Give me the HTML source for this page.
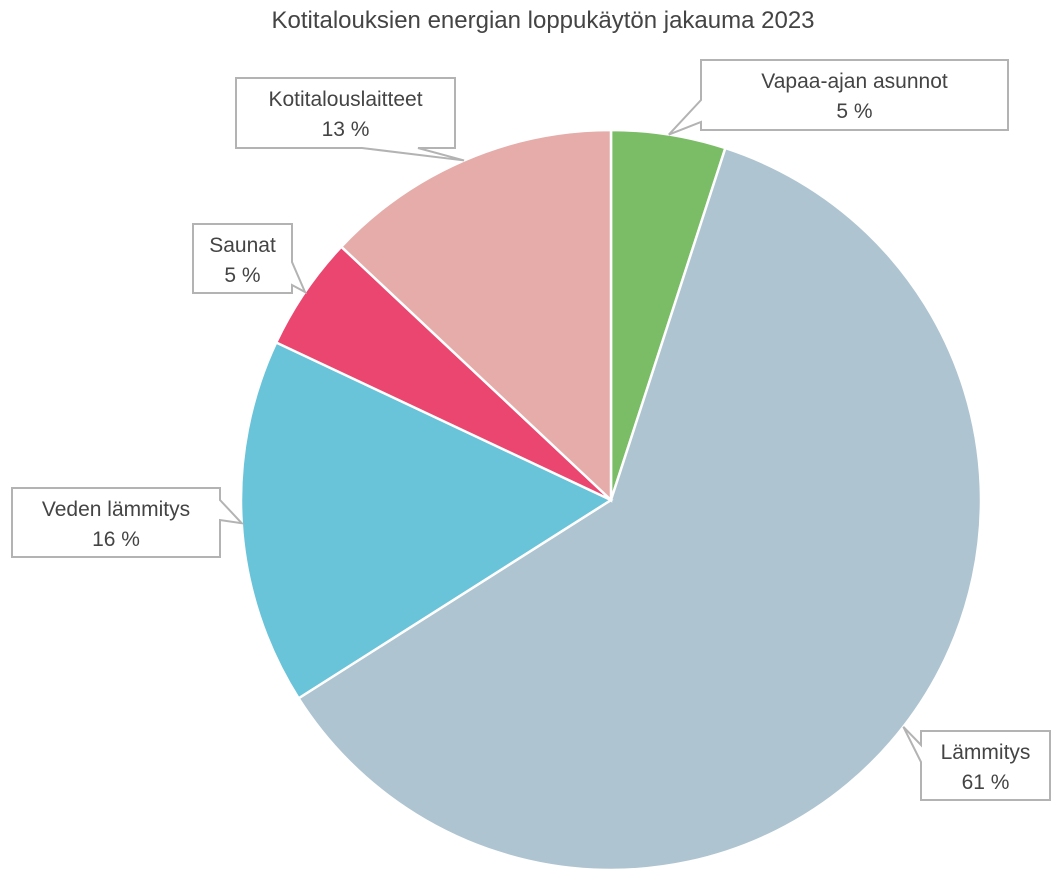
<!DOCTYPE html>
<html><head><meta charset="utf-8">
<style>
html,body{margin:0;padding:0;background:#fff;}
svg{display:block;font-family:"Liberation Sans",sans-serif;}
</style></head>
<body>
<svg id="chart" width="1063" height="887" viewBox="0 0 1063 887">
<text x="543" y="28" text-anchor="middle" font-size="24" fill="#444">Kotitalouksien energian loppukäytön jakauma 2023</text>
<g id="slices"></g>
<g id="labels"></g>
</svg>
<script>
const categories = ["Vapaa-ajan asunnot","Lämmitys","Veden lämmitys","Saunat","Kotitalouslaitteet"];
const values = [5,61,16,5,13];
const valueLabels = ["5 %","61 %","16 %","5 %","13 %"];
const colors = ["#7bbd66","#aec4d1","#69c3d9","#ea4670","#e5aca9"];
// label box layout: [x,y,w,h,tailEdge,t1,t2]
const boxes = [
 [701,60,307,70,"left",100,122],
 [921,731,129,69,"left",745,762],
 [12,488,208,69,"right",500,520],
 [193,224,99,69,"right",262,285],
 [236,78,219,70,"bottom",362,418]
];
const NS="http://www.w3.org/2000/svg";
const cx=611, cy=500, R=370;
const total=values.reduce((a,b)=>a+b,0);
function pt(frac,r){const a=frac*2*Math.PI;return [cx+r*Math.sin(a), cy-r*Math.cos(a)];}
const gS=document.getElementById('slices'), gL=document.getElementById('labels');
let cum=0;
values.forEach((v,i)=>{
  const f0=cum/total, f1=(cum+v)/total; cum+=v;
  const p0=pt(f0,R), p1=pt(f1,R);
  const large=(f1-f0)>0.5?1:0;
  const p=document.createElementNS(NS,'path');
  p.setAttribute('d',`M${cx},${cy}L${p0[0]},${p0[1]}A${R},${R} 0 ${large} 1 ${p1[0]},${p1[1]}Z`);
  p.setAttribute('fill',colors[i]);p.setAttribute('stroke','#fff');p.setAttribute('stroke-width','2.5');
  
  
  gS.appendChild(p);
  const tip=pt((f0+f1)/2,R);
  const b=boxes[i];const [x,y,w,h,edge,t1,t2]=b;
  let d;
  if(edge==="left") d=`M${x},${y}L${x+w},${y}L${x+w},${y+h}L${x},${y+h}L${x},${t2}L${tip[0]},${tip[1]}L${x},${t1}Z`;
  else if(edge==="right") d=`M${x},${y}L${x+w},${y}L${x+w},${t1}L${tip[0]},${tip[1]}L${x+w},${t2}L${x+w},${y+h}L${x},${y+h}Z`;
  else d=`M${x},${y}L${x+w},${y}L${x+w},${y+h}L${t2},${y+h}L${tip[0]},${tip[1]}L${t1},${y+h}L${x},${y+h}Z`;
  const g=document.createElementNS(NS,'g');
  
  
  const bp=document.createElementNS(NS,'path');
  bp.setAttribute('d',d);bp.setAttribute('fill','#fff');bp.setAttribute('stroke','#b3b3b3');bp.setAttribute('stroke-width','2');
  
  
  g.appendChild(bp);
  [categories[i],valueLabels[i]].forEach((t,k)=>{
    const tx=document.createElementNS(NS,'text');
    tx.setAttribute('x',x+w/2);tx.setAttribute('y',y+28+k*30);
    tx.setAttribute('text-anchor','middle');tx.setAttribute('font-size','21');tx.setAttribute('fill','#444');
    
    
    tx.textContent=t;g.appendChild(tx);
  });
  gL.appendChild(g);
});
</script>
</body></html>
